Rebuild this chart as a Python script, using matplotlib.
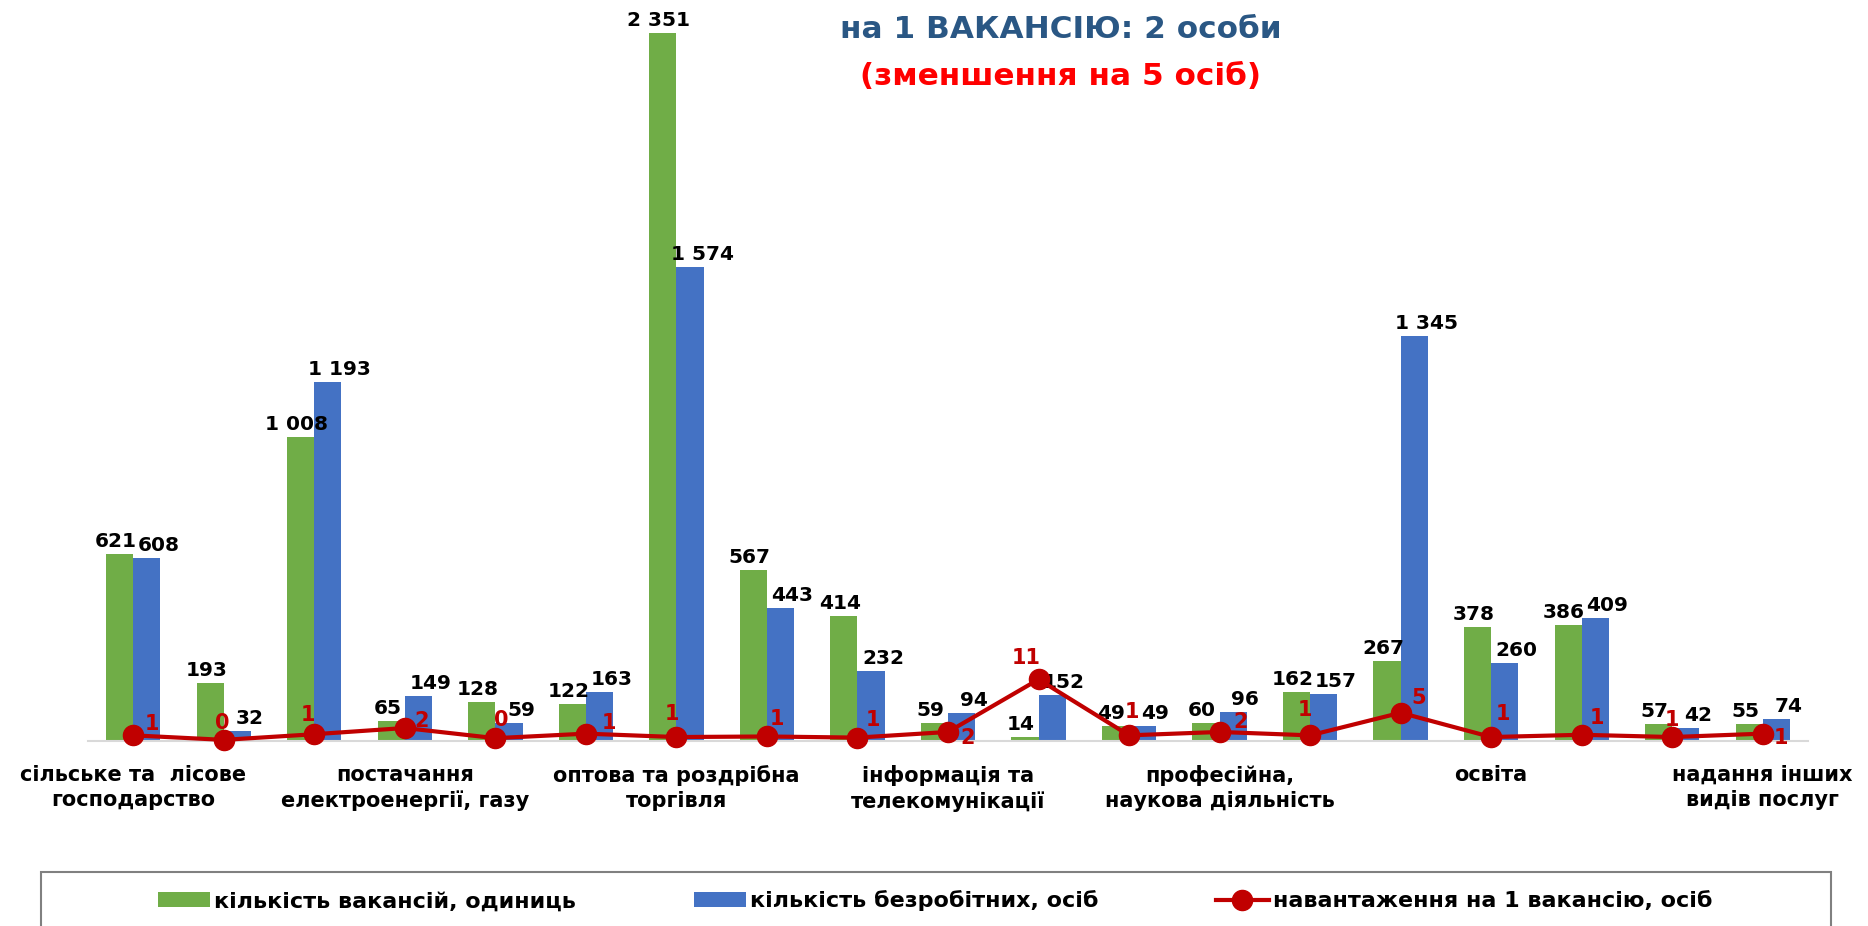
import matplotlib
matplotlib.use("Agg")
import matplotlib.pyplot as plt
from matplotlib.patches import Rectangle

plt.rcParams['font.family'] = ['DejaVu Sans']

# ---------------- data ----------------
categories = [
    "сільське та  лісове\nгосподарство",
    "добувна промисловість",
    "переробна промисловість",
    "постачання\nелектроенергії, газу",
    "водопостачання; каналізація",
    "будівництво",
    "оптова та роздрібна\nторгівля",
    "транспорт, складське господарство",
    "тимчасове розміщування й організація харчування",
    "інформація та\nтелекомунікації",
    "фінансова та страхова діяльність",
    "операції з нерухомим майном",
    "професійна,\nнаукова діяльність",
    "адміністративне обслуговування",
    "державне управління й оборона",
    "освіта",
    "охорона здоров'я",
    "мистецтво, спорт, розваги",
    "надання інших\nвидів послуг",
]
vacancies = [621, 193, 1008, 65, 128, 122, 2351, 567, 414, 59, 14, 49, 60, 162, 267, 378, 386, 57, 55]
unemployed = [608, 32, 1193, 149, 59, 163, 1574, 443, 232, 94, 152, 49, 96, 157, 1345, 260, 409, 42, 74]
load = [1.0, 0.2, 1.2, 2.3, 0.5, 1.3, 0.7, 0.8, 0.6, 1.6, 10.9, 1.0, 1.6, 1.0, 5.0, 0.7, 1.1, 0.7, 1.3]
load_labels = ["1", "0", "1", "2", "0", "1", "1", "1", "1", "2", "11", "1", "2", "1", "5", "1", "1", "1", "1"]
shown_ticks = [0, 3, 6, 9, 12, 15, 18]

series_names = ["кількість вакансій, одиниць", "кількість безробітних, осіб",
                "навантаження на 1 вакансію, осіб"]
title_line1 = "на 1 ВАКАНСІЮ: 2 особи"
title_line2 = "(зменшення на 5 осіб)"

# label offsets for the load line (pixels)
load_label_offsets = [(19, 11), (-2, 17), (-6, 19), (17, 7), (6, 18), (23, 11), (-4, 23),
                      (10, 17), (15, 18), (20, -6), (-12, 21), (3, 23), (21, 10), (-5, 25),
                      (18, 15), (12, 23), (15, 17), (0, 17), (18, -4)]

GREEN = "#70AD47"
BLUE = "#4472C4"
RED = "#C00000"

W, H = 1868, 926
fig = plt.figure(figsize=(W / 100, H / 100), dpi=100)

base_px = 741
top_px = 10
left_px, right_px = 88, 1808
ax = fig.add_axes([left_px / W, (H - base_px) / H, (right_px - left_px) / W, (base_px - top_px) / H])
ax.set_xlim(-0.5, len(categories) - 0.5)
ax.set_ylim(0, (base_px - top_px) / 0.3012)

x = list(range(len(categories)))
bw = 0.3
bars_g = ax.bar([i - bw / 2 for i in x], vacancies, width=bw, color=GREEN, label=series_names[0], zorder=2)
bars_b = ax.bar([i + bw / 2 for i in x], unemployed, width=bw, color=BLUE, label=series_names[1], zorder=2)


def fmt(v):
    return f"{v:,}".replace(",", " ")


for rects, vals, dx in ((bars_g, vacancies, -4), (bars_b, unemployed, 12)):
    for r, v in zip(rects, vals):
        ax.annotate(fmt(v), (r.get_x() + r.get_width() / 2, r.get_height()),
                    xytext=(dx, 3), textcoords="offset pixels", ha="center", va="bottom",
                    fontsize=14.5, fontweight="bold", color="black", zorder=3)

ax2 = ax.twinx()
ax2.set_ylim(0, (base_px - top_px) / 5.65)

for s in ("top", "left", "right"):
    ax.spines[s].set_visible(False)
ax.spines["bottom"].set_color("#D9D9D9")
ax.spines["bottom"].set_linewidth(1.5)
ax.tick_params(axis="y", left=False, right=False, labelleft=False, labelright=False)
ax.set_xticks(shown_ticks)
ax.set_xticklabels([categories[i] for i in shown_ticks], fontsize=15, fontweight="bold",
                   linespacing=1.35)
ax.tick_params(axis="x", length=0, pad=17)

for s in ax2.spines.values():
    s.set_visible(False)
ax2.tick_params(axis="y", left=False, right=False, labelleft=False, labelright=False)
line, = ax2.plot(x, load, color=RED, lw=3, marker="o", markersize=14.5,
                 label=series_names[2], zorder=4, clip_on=False)
for i, (v, lab) in enumerate(zip(load, load_labels)):
    dx, dy = load_label_offsets[i]
    ax2.annotate(lab, (i, v), xytext=(dx, dy), textcoords="offset pixels",
                 ha="center", va="center", fontsize=15, fontweight="bold", color=RED, zorder=5)

# titles
fig.text(1061 / W, 1 - 38 / H, title_line1, ha="center", va="baseline", fontsize=22.4,
         fontweight="bold", color="#2A5784")
fig.text(1060 / W, 1 - 85 / H, title_line2, ha="center", va="baseline", fontsize=22.4,
         fontweight="bold", color="#FF0000")

# legend
fig.legend([bars_g, bars_b, line], series_names, loc="center",
           bbox_to_anchor=(935 / W, (H - 901) / H), ncol=3, frameon=False,
           prop={"size": 16, "weight": "bold"}, handlelength=2.35, handleheight=0.63,
           handletextpad=0.18, columnspacing=5.3)
fig.add_artist(Rectangle((41 / W, -0.1), (1831 - 41) / W, 0.1 + (H - 872) / H,
                         transform=fig.transFigure, fill=False, edgecolor="#808080", lw=1.5))

fig.savefig("out.png", dpi=100)
